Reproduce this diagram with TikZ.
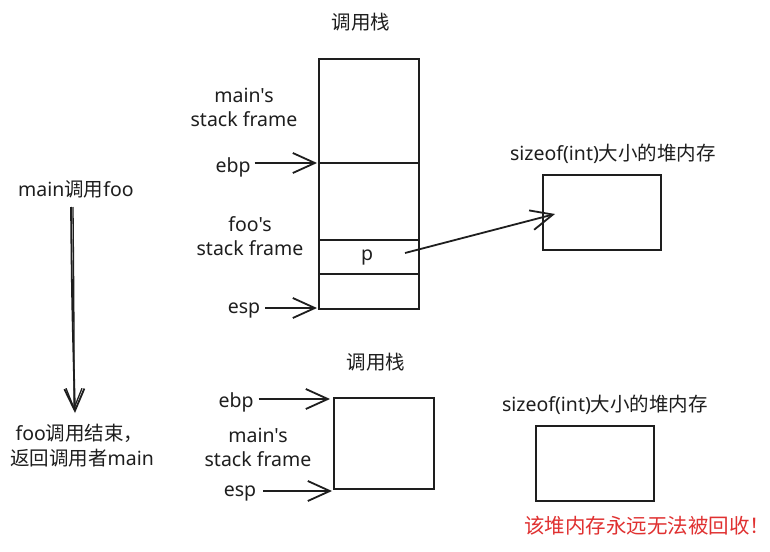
\documentclass[tikz,border=0pt]{standalone}
\usepackage{fontspec}
\setmainfont{Noto Sans}[Ligatures=TeXOff]
\newfontfamily\cjk{Noto Sans CJK SC}
\usetikzlibrary{arrows.meta}
\definecolor{inkc}{HTML}{1E1E1E}
\definecolor{redc}{HTML}{E03131}
\tikzset{
  lbl/.style={inner sep=0pt, font=\fontsize{19.5}{23}\selectfont, text=inkc, align=center},
  box/.style={draw=inkc, line width=1.8pt},
  arr/.style={draw=inkc, line width=1.8pt, -{Straight Barb[length=22pt,width=20pt,line width=1.8pt]}},
}
\begin{document}
\begin{tikzpicture}[x=1pt,y=-1pt]
\useasboundingbox (0,0) rectangle (770,551);
\fill[white] (0,0) rectangle (770,551);

% ---------- top stack ----------
\node[lbl] (title1) at (361,22) {\cjk 调用栈};
\draw[box] (319,59) rectangle (419,309);
\coordinate (ebpline) at (317,163);
\coordinate (espline) at (317,308);
\draw[box] (319,163) -- (419,163);
\draw[box] (319,240) -- (419,240);
\draw[box] (319,274) -- (419,274);
\node[lbl] (p) at (367,258) {p};
\coordinate (pstart) at (405,253);

\node[lbl] (mainsf1) at (244,107) {main's\\[1pt]stack frame};
\node[lbl] (ebp1) at (233,167) {ebp};
\node[lbl] (foosf) at (250,236) {foo's\\[1pt]stack frame};
\node[lbl] (esp1) at (244,311) {esp};
\draw[arr] ([xshift=4pt]ebp1.east |- ebpline) -- (ebpline);
\draw[arr] ([xshift=5pt]esp1.east |- espline) -- (espline);

% heap 1
\node[lbl] (heap1lbl) at (613,154) {sizeof(int)\cjk 大小的堆内存};
\node[box, minimum width=118pt, minimum height=75pt, inner sep=0pt] (heap1) at (602,212.5) {};
\coordinate (heaptip) at (555,214);
\draw[arr] (pstart) -- (heaptip);

% ---------- left timeline ----------
\node[lbl] (call) at (76,189) {main{\cjk 调用}foo};
\node[lbl] (ret) at (82,446) {\hspace*{-5pt}foo{\cjk 调用结束，}\\[2pt]{\cjk 返回调用者}main};
\coordinate (c1) at (71,207);
\coordinate (c2) at (73,207);
\coordinate (r1) at (75,413);
\coordinate (r2) at (74,410);
\draw[arr] (c1) .. controls (72,300) .. (r1);
\draw[draw=inkc, line width=1.3pt, -{Straight Barb[length=20pt,width=16pt,line width=1.3pt]}] (c2) .. controls (74,320) .. (r2);

% ---------- bottom stack ----------
\node[lbl] (title2) at (376,362) {\cjk 调用栈};
\draw[box] (334,398) rectangle (434,489);
\coordinate (ebpline2) at (330,399);
\coordinate (espline2) at (332,491);
\node[lbl] (ebp2) at (236,402) {ebp};
\node[lbl] (mainsf2) at (258,447) {main's\\[1pt]stack frame};
\node[lbl] (esp2) at (240,494) {esp};
\draw[arr] ([xshift=5pt]ebp2.east |- ebpline2) -- (ebpline2);
\draw[arr] ([xshift=7pt]esp2.east |- espline2) -- (espline2);

% heap 2
\node[lbl] (heap2lbl) at (605,405) {sizeof(int)\cjk 大小的堆内存};
\node[box, minimum width=118pt, minimum height=75pt, inner sep=0pt] (heap2) at (595,463.5) {};
\node[lbl, text=redc, font=\fontsize{20.5}{23}\selectfont] (warn) at (647,526) {\cjk 该堆内存永远无法被回收！};
\end{tikzpicture}
\end{document}
